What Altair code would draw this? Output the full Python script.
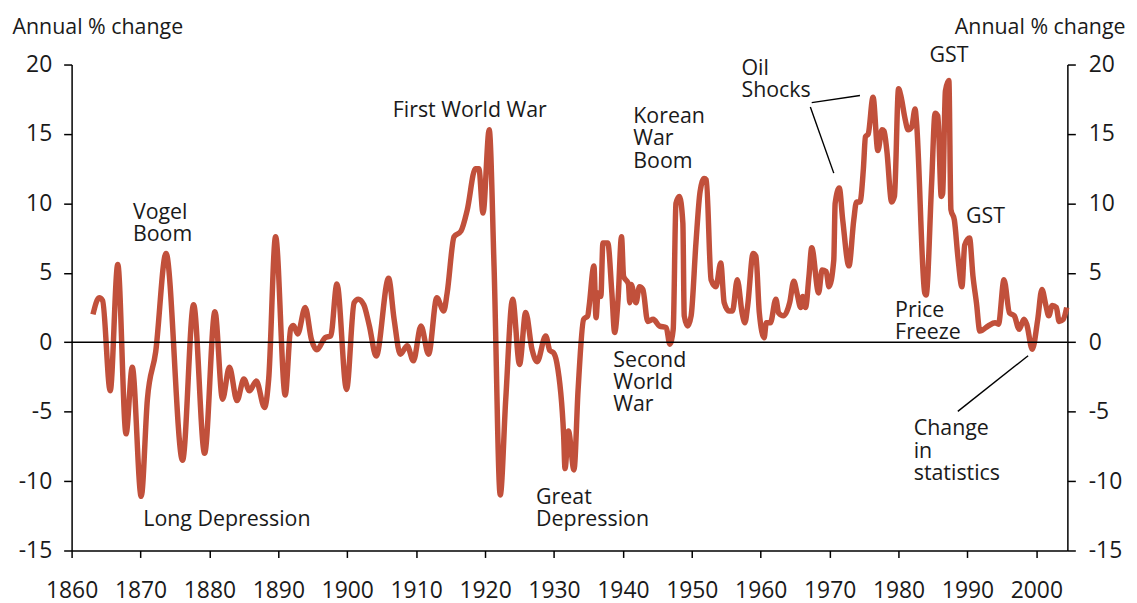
import altair as alt
import pandas as pd

# ---- data ----
years = [1863.1, 1864.0, 1864.5, 1865.6, 1866.7, 1867.9, 1868.8, 1870.1, 1871.0, 1872.2,
         1873.7, 1876.1, 1877.7, 1879.3, 1880.8, 1881.9, 1882.9, 1884.0, 1885.0, 1885.8,
         1886.8, 1888.0, 1888.6, 1889.6, 1891.0, 1891.8, 1892.2, 1892.8, 1893.9, 1894.8,
         1895.6, 1896.8, 1897.6, 1898.5, 1899.9, 1901.0, 1901.6, 1902.4, 1903.2, 1904.2,
         1906.0, 1906.8, 1907.7, 1908.7, 1909.6, 1910.7, 1911.8, 1913.0, 1914.0, 1914.5,
         1915.5, 1916.5, 1917.4, 1918.6, 1919.1, 1919.7, 1920.6, 1921.3, 1922.2, 1923.0,
         1924.0, 1925.0, 1925.9, 1926.8, 1927.55, 1928.8, 1929.4, 1929.9, 1930.4, 1931.4,
         1931.6, 1932.1, 1932.9, 1933.5, 1934.3, 1934.9, 1935.1, 1935.8, 1936.1, 1936.4,
         1936.8, 1937.1, 1937.8, 1938.4, 1938.8, 1939.3, 1939.8, 1940.1, 1940.8, 1941.0,
         1941.2, 1941.9, 1942.4, 1942.9, 1943.6, 1944.4, 1945.3, 1946.3, 1946.8, 1947.3,
         1947.7, 1948.2, 1948.7, 1948.9, 1949.4, 1949.9, 1950.6, 1951.2, 1951.8, 1952.1,
         1952.8, 1953.5, 1954.2, 1954.7, 1955.4, 1955.9, 1956.6, 1957.3, 1957.7, 1958.1,
         1958.9, 1959.3, 1959.8, 1960.5, 1960.8, 1961.4, 1962.2, 1962.6, 1963.3, 1964.2,
         1964.8, 1965.3, 1965.8, 1966.1, 1966.5, 1967.0, 1967.4, 1968.4, 1968.9, 1969.5,
         1969.9, 1970.6, 1970.8, 1971.4, 1971.9, 1972.8, 1973.5, 1973.9, 1974.4, 1974.9,
         1975.2, 1975.6, 1976.3, 1977.0, 1977.6, 1977.9, 1978.3, 1979.0, 1979.4, 1980.0,
         1980.4, 1980.9, 1981.4, 1981.9, 1982.4, 1982.6, 1983.8, 1984.0, 1984.8, 1985.3,
         1985.7, 1986.2, 1986.4, 1986.8, 1987.3, 1987.6, 1988.1, 1988.6, 1989.2, 1989.6,
         1990.3, 1990.8, 1991.3, 1991.8, 1993.0, 1994.0, 1994.5, 1995.3, 1996.1, 1996.8,
         1997.5, 1998.2, 1998.6, 1999.4, 2000.2, 2000.8, 2001.4, 2001.8, 2002.3, 2002.9,
         2003.3, 2003.9, 2004.4]
values = [2.0, 3.2, 3.0, -3.5, 5.6, -6.6, -1.8, -11.1, -4.1, -0.7,
          6.4, -8.5, 2.7, -8.0, 2.2, -4.1, -1.8, -4.2, -2.65, -3.5,
          -2.8, -4.7, -2.65, 7.6, -3.8, 1.0, 1.2, 0.6, 2.5, 0.2,
          -0.55, 0.33, 0.45, 4.2, -3.4, 2.85, 3.1, 2.7, 1.2, -1.0,
          4.6, 1.65, -0.86, -0.26, -1.34, 1.17, -0.86, 3.2, 2.25, 3.55,
          7.6, 8.0, 9.5, 12.5, 12.5, 9.3, 15.3, 5.5, -11.0, -4.1,
          3.1, -1.6, 2.15, -0.5, -1.4, 0.45, -0.6, -0.74, -1.46, -6.7,
          -9.1, -6.4, -9.2, -3.4, 1.65, 1.9, 2.6, 5.5, 1.77, 3.55,
          3.3, 7.15, 7.15, 3.55, 0.7, 3.1, 7.6, 4.75, 4.2, 2.85,
          4.15, 2.85, 4.0, 3.8, 1.5, 1.65, 1.17, 1.05, -0.14, 0.93,
          10.0, 10.5, 8.6, 1.9, 1.17, 1.9, 7.15, 10.85, 11.8, 11.7,
          4.5, 4.0, 5.7, 2.85, 2.25, 2.25, 4.5, 2.1, 1.4, 2.6,
          6.4, 6.2, 2.1, 0.33, 1.4, 1.4, 3.1, 2.1, 1.9, 2.85,
          4.4, 3.45, 2.5, 3.3, 2.5, 4.75, 6.8, 3.55, 5.2, 5.1,
          4.0, 5.9, 10.0, 11.1, 8.8, 5.5, 8.8, 10.1, 10.1, 12.5,
          14.8, 15.0, 17.65, 13.8, 15.3, 15.2, 13.8, 10.1, 10.5, 18.25,
          17.6, 16.2, 15.3, 15.5, 16.8, 15.9, 3.55, 3.4, 11.45, 16.5,
          16.3, 10.5, 10.7, 18.1, 18.85, 9.55, 8.8, 6.2, 4.0, 7.0,
          7.5, 4.75, 2.85, 0.8, 1.17, 1.4, 1.3, 4.5, 2.1, 1.9,
          0.93, 1.65, 1.3, -0.5, 1.65, 3.8, 2.6, 1.9, 2.65, 2.5,
          1.5, 1.65, 2.5]

ann_text = ["Vogel\nBoom", "Long Depression", "First World War", "Great\nDepression",
            "Korean\nWar\nBoom", "Second\nWorld\nWar", "Oil\nShocks",
            "GST", "GST", "Price\nFreeze", "Change\nin\nstatistics"]
ann_year = [1868.9, 1870.4, 1906.6, 1927.4,
            1941.5, 1938.6, 1957.2,
            1984.5, 1989.8, 1979.5, 1982.2]
# value of the first line of each label
ann_value = [9.30, -12.78, 16.64, -11.21,
             16.22, -1.32, 19.68,
             20.59, 9.05, 2.26, -6.27]

conn_x = [1967.4, 1967.2, 1998.8]
conn_x2 = [1974.4, 1970.6, 1988.6]
conn_y = [17.26, 16.94, -0.97]
conn_y2 = [17.77, 12.18, -4.98]

x_ticks = list(range(1860, 2001, 10))
y_ticks = list(range(-15, 21, 5))
zero_level = [0]

XDOM = [1860, 2004.5]
YDOM = [-15, 20]
FONT = "Open Sans"
RED = "#C1503B"
INK = "#1a1a1a"

df = pd.DataFrame({"year": years, "value": values})
ann_df = pd.DataFrame({"label": ann_text, "year": ann_year, "value": ann_value})
conn_df = pd.DataFrame({"x": conn_x, "x2": conn_x2, "y": conn_y, "y2": conn_y2})
zero_df = pd.DataFrame({"v": zero_level})

xscale = alt.Scale(domain=XDOM, nice=False, zero=False)
yscale = alt.Scale(domain=YDOM, nice=False, zero=False)
neg_expr = "datum.value < 0 ? '-' + abs(datum.value) : '' + datum.value"

x_axis = alt.Axis(
    values=x_ticks, format="d", title=None, grid=False, labelFontSize=23, labelFont=FONT,
    labelColor=INK, tickSize=7, labelPadding=22, domainColor="black", tickColor="black",
    domainWidth=1.5, tickWidth=1.5, labelFlush=False)

common_y_axis = dict(
    values=y_ticks, grid=False, labelExpr=neg_expr, labelFontSize=23, labelFont=FONT,
    labelColor=INK, tickSize=8, tickColor="black", tickWidth=1.5, domainColor="black",
    domainWidth=1.5, titleAngle=0, titleFontSize=21.5, titleFont=FONT, titleFontWeight="normal",
    titleColor=INK, titleBaseline="alphabetic", titleY=-31, title="Annual % change",
)

line = alt.Chart(df).mark_line(color=RED, strokeWidth=5.5, interpolate="monotone", strokeJoin="round").encode(
    x=alt.X("year:Q", scale=xscale, axis=x_axis),
    y=alt.Y("value:Q", scale=yscale, axis=alt.Axis(
        orient="left", labelPadding=12, titleX=-60, titleAlign="left", **common_y_axis)),
)

zero = alt.Chart(zero_df).mark_rule(color="black", strokeWidth=1.5).encode(
    y=alt.Y("v:Q", scale=yscale, axis=alt.Axis(
        orient="right", labelPadding=13, titleX=58, titleAlign="right", **common_y_axis)),
)

ann = alt.Chart(ann_df).mark_text(
    align="left", baseline="middle", fontSize=21.5, font=FONT, color=INK,
    lineBreak="\n", lineHeight=22.5,
).encode(
    x=alt.X("year:Q", scale=xscale, axis=x_axis),
    y=alt.Y("value:Q", scale=yscale, axis=None),
    text="label:N",
)

conn = alt.Chart(conn_df).mark_rule(color="black", strokeWidth=1.4).encode(
    x=alt.X("x:Q", scale=xscale, axis=x_axis),
    x2="x2:Q",
    y=alt.Y("y:Q", scale=yscale, axis=None),
    y2="y2:Q",
)

chart = alt.layer(line, zero, ann, conn).resolve_scale(y="independent").properties(
    width=1002, height=489,
    padding={"left": 64, "top": 55, "right": 62, "bottom": 60},
    autosize=alt.AutoSizeParams(type="none"),
    background="white",
).configure_view(stroke=None)

chart.save("out.html", embed_options={"renderer": "svg", "actions": False})
